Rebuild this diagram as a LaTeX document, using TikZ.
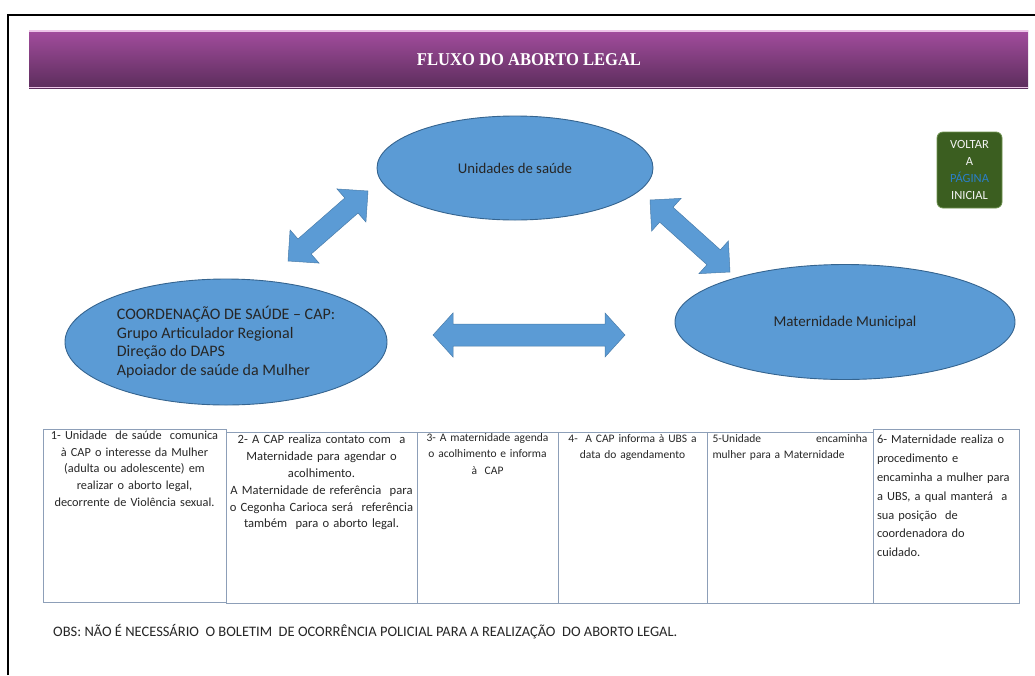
\documentclass[tikz,border=0pt]{standalone}
\usepackage{fontspec}
\usepackage{graphicx}
\setmainfont{Carlito}
\newfontfamily\titlefont{Liberation Serif}
\usetikzlibrary{calc,shapes.geometric}
\definecolor{ellfill}{HTML}{5B9BD5}
\definecolor{elldraw}{HTML}{35648F}
\definecolor{bantop}{HTML}{A34D9E}
\definecolor{banbot}{HTML}{5C2D5C}
\definecolor{banedge}{HTML}{EDC4E8}
\definecolor{boxline}{HTML}{8D9FB8}
\definecolor{btnfill}{HTML}{3B5E20}
\definecolor{btnline}{HTML}{6E9350}
\definecolor{btnblue}{HTML}{2A7FC8}
\definecolor{txt}{HTML}{262626}
\newcommand\blockarr[5]{%
  \coordinate (m1) at ($(#1)!#3!(#2)$);
  \coordinate (m2) at ($(#2)!#3!(#1)$);
  \filldraw[blockarrow] (#1) -- ($(m1)!#4!90:(#2)$) -- ($(m1)!#5!90:(#2)$)
    -- ($(m2)!#5!-90:(#1)$) -- ($(m2)!#4!-90:(#1)$) -- (#2)
    -- ($(m2)!#4!90:(#1)$) -- ($(m2)!#5!90:(#1)$)
    -- ($(m1)!#5!-90:(#2)$) -- ($(m1)!#4!-90:(#2)$) -- cycle;}
\tikzset{
  ellnode/.style={ellipse, fill=ellfill, draw=elldraw, line width=0.9pt, inner sep=0pt, text=txt},
  blockarrow/.style={fill=ellfill, draw=ellfill!80!black, line width=0.5pt, line join=miter},
  stepbox/.style={draw=boxline, line width=0.9pt},
  steptext/.style={anchor=north, inner sep=0pt, text=txt, font=\fontsize{11.5}{16.6}\selectfont},
}
\begin{document}
\begin{tikzpicture}[x=1pt,y=-1pt]
\useasboundingbox (0,0) rectangle (1035,675);
% frame
\coordinate (f1) at (8,675);
\coordinate (f2) at (8,15);
\coordinate (f3) at (1035,15);
\draw[line width=2.2pt, black] (f1) -- (f2) -- (f3);
% banner
\shade[top color=bantop, bottom color=banbot] (29,30) rectangle (1028,88);
\fill[banedge] (29,30) rectangle (1028,31.5);
\fill[banedge] (29,86.5) rectangle (1028,88);
\node[text=white, font=\titlefont\bfseries\fontsize{18}{20}\selectfont] (title) at (529,60) {\scalebox{0.92}[1]{FLUXO DO ABORTO LEGAL}};
% ellipses
\node[ellnode, minimum width=276pt, minimum height=104pt, font=\fontsize{14.8}{16}\selectfont] (us) at (515,168) {Unidades de saúde};
\node[ellnode, minimum width=322pt, minimum height=126pt, align=left, font=\fontsize{16}{18.5}\selectfont] (cap) at (226,342) {COORDENAÇÃO DE SAÚDE – CAP:\\Grupo Articulador Regional\\Direção do DAPS\\Apoiador de saúde da Mulher};
\node[ellnode, minimum width=340pt, minimum height=115pt, font=\fontsize{15}{16}\selectfont] (mat) at (845,322) {Maternidade Municipal};
% block arrows
\coordinate (a1p) at (288,261);
\coordinate (a1q) at (368,191);
\blockarr{a1p}{a1q}{22pt}{22pt}{10pt}
\coordinate (a2p) at (650,200);
\coordinate (a2q) at (730,272);
\blockarr{a2p}{a2q}{22pt}{22pt}{10pt}
\coordinate (a3p) at (433,335);
\coordinate (a3q) at (625,335);
\blockarr{a3p}{a3q}{20pt}{22pt}{11pt}
% button
\node[draw=btnline, fill=btnfill, rounded corners=6pt, line width=0.8pt, minimum width=65pt, minimum height=76pt, inner sep=0pt] (btn) at (969.5,170) {};
\node[text=white!90!gray, align=center, font=\fontsize{12.5}{17}\selectfont] (btntext) at (btn.center) {VOLTAR\\A\\\textcolor{btnblue}{PÁGINA}\\INICIAL};
% step boxes
\draw[stepbox] (43,429) rectangle (226,602);
\draw[stepbox] (226,432) rectangle (417,603);
\draw[stepbox] (417,432) rectangle (558,603);
\draw[stepbox] (558,432) rectangle (707,603);
\draw[stepbox] (707,432) rectangle (873,603);
\draw[stepbox] (873,429) rectangle (1019,603);
\node[steptext, align=center, text width=180pt, font=\fontsize{12.3}{16.6}\selectfont] (s1) at (134.5,431) {1- Unidade~ de saúde~ comunica\\à CAP o interesse da Mulher\\(adulta ou adolescente) em\\realizar o aborto legal,\\decorrente de Violência sexual.};
\node[steptext, align=center, text width=190pt, font=\fontsize{12.6}{16.8}\selectfont] (s2) at (321.5,435) {2- A CAP realiza contato com~ a\\Maternidade para agendar o\\acolhimento.\\A Maternidade de referência~ para\\o Cegonha Carioca será~ referência\\também~ para o aborto legal.};
\node[steptext, align=center, text width=138pt] (s3) at (487.5,433) {3- A maternidade agenda\\o acolhimento e informa\\à~ CAP};
\node[steptext, align=center, text width=146pt] (s4) at (632.5,434) {4-~ A CAP informa à UBS a\\data do agendamento};
\node[steptext, align=left, text width=155pt] (s5) at (790,434) {5-Unidade\hfill encaminha\\mulher para a Maternidade};
\node[steptext, align=left, text width=140pt, font=\fontsize{12.4}{18.8}\selectfont] (s6) at (947,435) {6- Maternidade realiza o\\procedimento e\\encaminha a mulher para\\a UBS, a qual manterá~ a\\sua posição~ de\\coordenadora do\\cuidado.};
% note
\node[anchor=west, inner sep=0pt, text=txt, font=\fontsize{14.5}{16}\selectfont] (obs) at (53,632) {OBS: NÃO É NECESSÁRIO~ O BOLETIM~ DE OCORRÊNCIA POLICIAL PARA A REALIZAÇÃO~ DO ABORTO LEGAL.};
\end{tikzpicture}
\end{document}
